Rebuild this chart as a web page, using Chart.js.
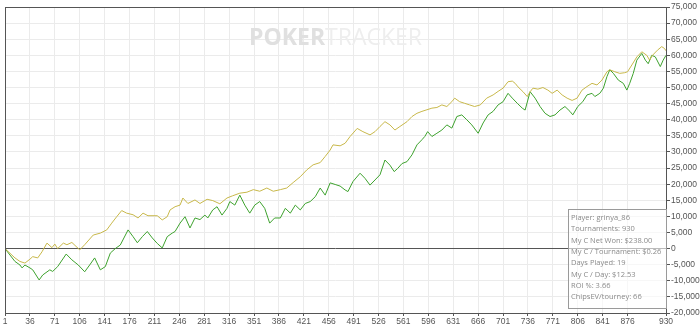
<!DOCTYPE html>
<html>
<head>
<meta charset="utf-8">
<script src="https://cdn.jsdelivr.net/npm/chart.js@4/dist/chart.umd.min.js"></script>
<style>
    html, body { margin: 0; padding: 0; background: #fff; }
    #wrap { width: 700px; height: 328px; position: relative; }
</style>
</head>
<body>
<div id="wrap"><canvas id="chart"></canvas></div>
<script>
// tick labels
const xTicks = [1, 36, 71, 106, 141, 176, 211, 246, 281, 316, 351, 386, 421, 456, 491, 526, 561, 596, 631, 666, 701, 736, 771, 806, 841, 876, 930];

// net won (green)
const wonTourney = [1, 8, 15, 22, 25, 29, 36, 40, 49, 54, 64, 68, 75, 87, 95, 104, 113, 120, 127, 135, 142, 149, 156, 163, 174, 181, 187, 194, 201, 208, 215, 222, 229, 236, 240, 247, 254, 261, 268, 275, 282, 286, 293, 299, 306, 313, 317, 324, 331, 338, 345, 352, 359, 366, 373, 380, 388, 395, 402, 409, 416, 423, 430, 437, 444, 451, 458, 465, 472, 479, 483, 490, 500, 507, 514, 521, 528, 535, 542, 548, 553, 559, 566, 573, 580, 587, 591, 595, 601, 608, 615, 622, 629, 636, 643, 650, 657, 666, 673, 680, 687, 694, 701, 708, 714, 721, 728, 732, 739, 746, 753, 760, 767, 774, 781, 788, 795, 799, 806, 813, 819, 826, 830, 837, 842, 847, 851, 856, 863, 870, 875, 879, 884, 889, 896, 901, 905, 910, 915, 922, 926, 930];
const wonValue = [0, -2000, -4000, -5100, -6000, -5100, -6000, -6600, -9750, -8200, -6600, -7100, -5600, -1700, -3500, -5100, -7200, -5100, -2900, -6600, -5600, -1400, 0, 1100, 5800, 3700, 1800, 3700, 5300, 3300, 1600, 200, 3700, 4800, 5300, 7900, 9900, 6400, 9500, 9000, 10400, 9500, 12000, 13000, 10400, 12500, 14600, 13500, 16600, 13500, 11000, 13500, 14600, 12500, 7900, 9500, 9500, 12500, 11000, 13500, 12000, 14000, 14600, 16100, 18800, 16600, 20400, 19900, 19400, 18200, 17700, 20800, 23400, 21800, 19700, 21300, 22900, 27500, 25900, 23900, 24900, 26400, 27000, 29100, 32200, 33800, 34800, 36300, 34800, 35800, 36800, 38400, 37400, 41000, 41500, 40000, 38400, 35800, 39000, 41500, 42600, 44600, 45600, 48200, 46700, 45100, 43600, 43000, 48700, 46700, 44100, 42000, 41000, 41500, 43000, 44100, 42600, 41500, 44100, 45600, 47700, 48200, 47200, 48200, 49800, 53400, 55500, 54400, 52300, 51300, 49200, 51300, 54400, 58500, 60600, 58500, 57400, 60000, 59500, 56500, 58500, 60000];

// chips EV (yellow)
const evTourney = [1, 15, 22, 29, 36, 40, 47, 53, 60, 67, 71, 75, 83, 88, 95, 106, 113, 125, 135, 144, 151, 158, 165, 172, 181, 188, 195, 202, 215, 222, 229, 233, 240, 247, 251, 258, 268, 275, 285, 293, 303, 313, 321, 331, 341, 350, 359, 369, 378, 388, 397, 406, 416, 425, 434, 444, 451, 458, 462, 472, 479, 486, 496, 504, 514, 521, 528, 535, 542, 549, 556, 566, 573, 580, 587, 594, 601, 608, 615, 622, 629, 633, 640, 647, 654, 661, 669, 678, 687, 694, 701, 708, 714, 718, 722, 729, 735, 739, 743, 750, 757, 764, 770, 777, 784, 791, 798, 805, 812, 819, 826, 833, 840, 847, 851, 858, 865, 872, 876, 882, 889, 896, 903, 907, 911, 918, 924, 928, 930];
const evValue = [0, -2900, -4000, -4500, -3300, -2500, -2900, -1000, 1700, 300, 1400, 0, 1700, 1200, 1900, -400, 1200, 4200, 4800, 5800, 7900, 9900, 11800, 11000, 10500, 9500, 11000, 10200, 10200, 8900, 9900, 12000, 13000, 13500, 15700, 14000, 15100, 14000, 15300, 14900, 13900, 15700, 16400, 17200, 17500, 18300, 17800, 18800, 17800, 18300, 18800, 20500, 22300, 24400, 26000, 26700, 28600, 30600, 32200, 31900, 32700, 34800, 37300, 36300, 35300, 36300, 37900, 39400, 38400, 36800, 37900, 39400, 41000, 42000, 42600, 43100, 43600, 43800, 44600, 44100, 45600, 46700, 45600, 45100, 44600, 44100, 44600, 46700, 47700, 48800, 49800, 51800, 52000, 51300, 50200, 48700, 47200, 48700, 49800, 49500, 50000, 49200, 48200, 49200, 47700, 46700, 46000, 46700, 49200, 50300, 51300, 50800, 52300, 54900, 55500, 54900, 54400, 54600, 54900, 57000, 59500, 61100, 60000, 58500, 60000, 61600, 62700, 62100, 61400];

const statLines = [
    "Player: grinya_86",
    "Tournaments: 930",
    "My C Net Won: $238.00",
    "My C / Tournament: $0.26",
    "Days Played: 19",
    "My C / Day: $12.53",
    "ROI %: 3.66",
    "ChipsEV/tourney: 66"
];

function toPoints(xs, ys) {
    return xs.map(function (x, i) { return { x: x, y: ys[i] }; });
}

const decorPlugin = {
    id: "decor",
    beforeDatasetsDraw: function (chart) {
        var ctx = chart.ctx;
        ctx.save();
        ctx.textBaseline = "alphabetic";
        ctx.font = "bold 23px 'Open Sans'";
        ctx.fillStyle = "#e0e0e0";
        ctx.fillText("POKER", 249, 45);
        var w = ctx.measureText("POKER").width;
        ctx.font = "23px 'Open Sans'";
        ctx.fillStyle = "#eeeeee";
        ctx.fillText("TRACKER", 249 + w, 45);
        ctx.restore();
    },
    afterDraw: function (chart) {
        var ctx = chart.ctx;
        var a = chart.chartArea;
        ctx.save();
        // frame
        ctx.strokeStyle = "#555";
        ctx.lineWidth = 1;
        ctx.strokeRect(Math.round(a.left) + 0.5, Math.round(a.top) + 0.5,
            Math.round(a.right - a.left), Math.round(a.bottom - a.top));
        // stats box
        var bx = 568.5, by = 209.5, bw = 98, bh = 99;
        ctx.fillStyle = "rgba(255,255,255,0.6)";
        ctx.fillRect(bx, by, bw, bh);
        ctx.strokeStyle = "#9a9a9a";
        ctx.strokeRect(bx, by, bw, bh);
        ctx.fillStyle = "#8a8a8a";
        ctx.font = "7.5px 'Open Sans'";
        ctx.textBaseline = "middle";
        statLines.forEach(function (s, i) {
            ctx.fillText(s, 571, 218 + i * 11.3);
        });
        ctx.restore();
    }
};

new Chart(document.getElementById("chart"), {
    type: "line",
    data: {
        datasets: [
            {
                data: toPoints(evTourney, evValue),
                borderColor: "#c8b84a",
                borderWidth: 1,
                pointRadius: 0,
                tension: 0
            },
            {
                data: toPoints(wonTourney, wonValue),
                borderColor: "#3ea22e",
                borderWidth: 1,
                pointRadius: 0,
                tension: 0
            }
        ]
    },
    options: {
        responsive: true,
        maintainAspectRatio: false,
        animation: false,
        layout: { padding: { left: 5, top: 7, right: 0, bottom: 0 } },
        plugins: {
            legend: { display: false },
            tooltip: { enabled: false }
        },
        scales: {
            x: {
                type: "linear",
                min: 1,
                max: 930,
                afterBuildTicks: function (scale) {
                    scale.ticks = xTicks.map(function (v) { return { value: v }; });
                },
                afterFit: function (scale) { scale.height = 15; },
                grid: {
                    color: "#ebebeb",
                    tickColor: "#555",
                    tickLength: 3
                },
                border: { display: true, color: "#555" },
                ticks: {
                    autoSkip: false,
                    maxRotation: 0,
                    padding: 1,
                    color: "#555",
                    font: { family: "'Liberation Sans'", size: 8.5 },
                    callback: function (v) { return String(v); }
                }
            },
            y: {
                position: "right",
                min: -20000,
                max: 75000,
                afterFit: function (scale) { scale.width = 34; },
                grid: {
                    color: function (c) { return c.tick && c.tick.value === 0 ? "#555" : "#ebebeb"; },
                    tickColor: "#555",
                    tickLength: 4
                },
                border: { display: true, color: "#555" },
                ticks: {
                    stepSize: 5000,
                    padding: 1,
                    color: "#555",
                    font: { family: "'Liberation Sans'", size: 8.5 },
                    callback: function (v) { return v.toLocaleString("en-US"); }
                }
            }
        }
    },
    plugins: [decorPlugin]
});
</script>
</body>
</html>
